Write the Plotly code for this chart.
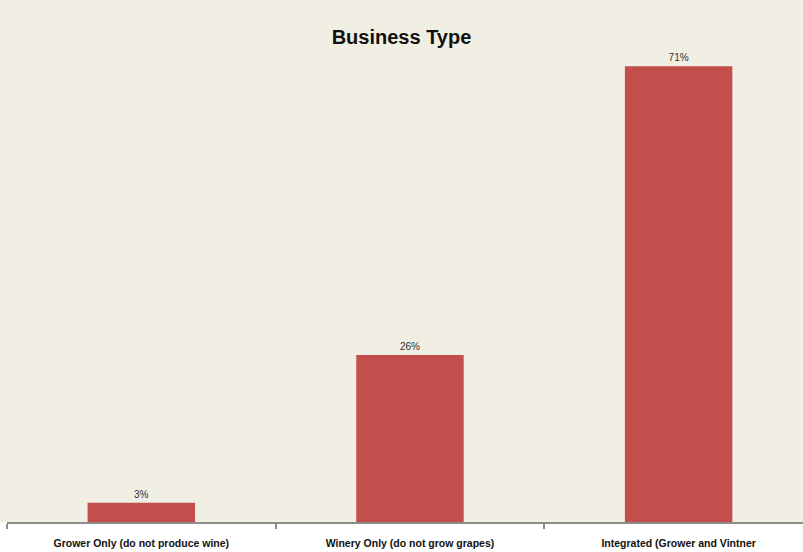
import plotly.graph_objects as go

# Survey share of respondents by business type (percent)
categories = [
    "Grower Only (do not produce wine)",
    "Winery Only (do not grow grapes)",
    "Integrated (Grower and Vintner",
]
shares = [3, 26, 71]
share_labels = [f"{v}%" for v in shares]

BG = "#F1EEE3"
BAR = "#C24F4C"

fig = go.Figure(
    go.Bar(
        x=categories,
        y=shares,
        text=share_labels,
        textposition="outside",
        textfont=dict(family="Liberation Sans, Arial, sans-serif", size=10, color="#333333"),
        marker=dict(color=BAR, line=dict(width=0)),
        width=0.4,
        cliponaxis=False,
        hoverinfo="skip",
    )
)

fig.update_layout(
    width=803,
    height=552,
    margin=dict(l=7, r=0, t=0, b=30),
    paper_bgcolor=BG,
    plot_bgcolor=BG,
    showlegend=False,
    title=dict(
        text="<b>Business Type</b>",
        x=0.5,
        xanchor="center",
        y=1 - 37 / 552,
        yanchor="middle",
        font=dict(family="Liberation Sans, Arial, sans-serif", size=20, color="#111111"),
    ),
    xaxis=dict(
        type="category",
        range=[-0.5, 2.463],
        showline=True,
        linecolor="#8C8C8C",
        linewidth=1.5,
        ticks="outside",
        tickson="boundaries",
        ticklen=5,
        tickcolor="#8C8C8C",
        tickwidth=1.5,
        showgrid=False,
        ticklabelstandoff=11,
        tickfont=dict(family="Liberation Sans, Arial, sans-serif", size=10.5, color="#111111", weight="bold"),
    ),
    yaxis=dict(
        range=[0, 81.3],
        visible=False,
        showgrid=False,
        zeroline=False,
    ),
    shapes=[
        dict(
            type="rect",
            xref="paper",
            yref="paper",
            x0=-1,
            x1=2,
            y0=-1,
            y1=0,
            fillcolor="white",
            line=dict(width=0),
            layer="below",
        )
    ],
)

fig.write_html("out.html")
